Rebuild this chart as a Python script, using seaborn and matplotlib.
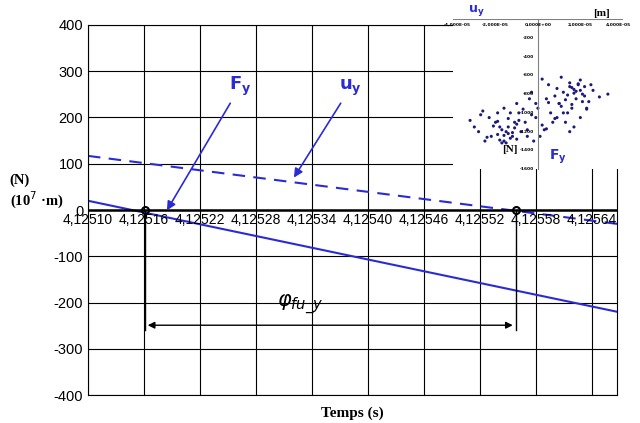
import matplotlib
matplotlib.use("Agg")
import matplotlib.pyplot as plt
import seaborn as sns
import numpy as np
import pandas as pd

t = [4.12510, 4.125667]
Fy = [20, -220]
uy = [117, -30]
xticks = [4.12510, 4.12516, 4.12522, 4.12528, 4.12534, 4.12540, 4.12546, 4.12552, 4.12558, 4.12564]
xlabels = ["4,12510", "4,12516", "4,12522", "4,12528", "4,12534", "4,12540", "4,12546", "4,12552", "4,12558", "4,12564"]
yticks = [-400, -300, -200, -100, 0, 100, 200, 300, 400]
zeros_t = [4.125161, 4.125558]

# inset scatter (approximate, hand-read)
sx = [1.7, 1.9, 2.1, 1.5, 1.8, 2.2, 1.2, 1.0, 2.0, 1.6, 0.8, 0.5, 1.4, 2.4, 1.1, 0.2, -0.3, 0.9, 1.3, 2.6,
      -1.5, -1.8, -1.2, -2.0, -1.0, -1.6, -2.3, -0.8, -1.4, -0.5, -1.9, -2.6, -1.1, -0.2, -2.8, -3.2, -1.7, -0.9, 0.3, -2.2,
      0.0, 0.6, -0.6, 1.0, -1.3, 0.4, -0.1, 1.7, 2.3, 3.3, 2.9, -3.0, -2.5, 0.7, -0.4, 1.5, -1.0, 0.1, 2.0, -1.6,
      1.8, 1.6, 2.0, 1.4, 1.9, 1.7, 2.1, 1.5, 1.3, 2.2, -1.4, -1.7, -1.3, -1.9, -1.5, -1.1, -1.6, -2.1, -1.2, -1.8,
      0.5, -0.7, 1.1, -0.3, 0.8, -1.0, 0.2, -2.4, 2.5, -0.5, 1.2, -1.9, 0.9, -0.9, 0.4, -2.7, 2.3, -0.1, 1.6, -1.4]
sy = [-750, -700, -800, -680, -850, -720, -780, -900, -650, -950, -820, -700, -1000, -880, -620, -640, -780, -1050, -1100, -760,
      -1200, -1150, -1250, -1100, -1280, -1300, -1050, -1200, -1150, -1250, -1000, -980, -1100, -1300, -1200, -1080, -1320, -1000, -1180, -1250,
      -950, -1000, -1100, -900, -1000, -850, -1050, -1150, -950, -800, -830, -1150, -1300, -1100, -850, -1200, -900, -1250, -1050, -950,
      -770, -730, -760, -810, -690, -790, -880, -720, -860, -820, -1220, -1180, -1270, -1230, -1320, -1160, -1240, -1140, -1210, -1290,
      -890, -960, -930, -1020, -1060, -1120, -1130, -1260, -700, -1180, -1000, -1090, -740, -1080, -1170, -1020, -960, -900, -910, -1060]

fig = plt.figure(figsize=(6.4, 4.23), dpi=100)
ax = fig.add_axes([0.1375, 0.066, 0.827, 0.875])
sns.lineplot(x=t, y=Fy, ax=ax, color="#2b2bd6", lw=1.5)
sns.lineplot(x=t, y=uy, ax=ax, color="#2b2bd6", lw=1.5, linestyle=(0, (6, 4)))
ax.set_xlim(4.12510, 4.125667)
ax.set_ylim(-400, 400)
ax.set_xticks(xticks)
ax.set_yticks(yticks)
ax.set_xticklabels([])
ax.set_yticklabels([str(v) for v in yticks], fontsize=10.5, family="Liberation Sans")
ax.tick_params(length=0)
ax.grid(True, color="black", lw=0.8)
ax.axhline(0, color="black", lw=1.8)
for s in ax.spines.values():
    s.set_linewidth(0.8)
for x, lab in zip(xticks, xlabels):
    ax.text(x, -22, lab, ha="center", va="center", fontsize=10, family="Liberation Sans")
for z in zeros_t:
    ax.plot([z, z], [0, -260], color="black", lw=1)
    ax.plot(z, 0, "o", mfc="none", mec="black", ms=5, mew=1.5)
ax.annotate("", xy=(zeros_t[0], -249), xytext=(zeros_t[1], -249),
            arrowprops=dict(arrowstyle="<|-|>", color="black", lw=1))
ax.text(4.125327, -232, r"$\varphi_{fu\_y}$", fontsize=15, ha="center", va="bottom", fontweight="bold")
ax.annotate(r"$\mathbf{F_y}$", xy=(4.125183, -6), xytext=(4.125263, 242), fontsize=13, color="#2b2bd6",
            ha="center", va="bottom", arrowprops=dict(arrowstyle="-|>", color="#2b2bd6", lw=1.2))
ax.annotate(r"$\mathbf{u_y}$", xy=(4.125319, 65), xytext=(4.125381, 242), fontsize=13, color="#2b2bd6",
            ha="center", va="bottom", arrowprops=dict(arrowstyle="-|>", color="#2b2bd6", lw=1.2))
fig.text(0.015, 0.545, "(N)\n(10$^7$ ·m)", fontsize=10.5, family="Liberation Serif", fontweight="bold", va="center")
fig.text(0.55, 0.015, "Temps (s)", fontsize=11, family="Liberation Serif", fontweight="bold", ha="center")

# inset
ia = fig.add_axes([0.708, 0.60, 0.265, 0.355])
ia.patch.set_facecolor("white")
sns.scatterplot(x=np.array(sx) * 1e-5, y=sy, ax=ia, s=5, color="#1a1a7a", edgecolor="none")
ia.set_xlim(-4e-5, 4e-5)
ia.set_ylim(-1600, 0)
for s in ["top", "right", "bottom"]:
    ia.spines[s].set_visible(False)
ia.spines["left"].set_position(("data", 0))
ia.spines["left"].set_color("gray")
ia.axhline(0, color="gray", lw=0.8)
ia.set_xticks([])
ia.set_yticks([])
for xv, lab in zip([-3.8e-5, -2e-5, 0, 2e-5, 3.8e-5], ["-4,000E-05", "-2,000E-05", "0,000E+00", "2,000E-05", "4,000E-05"]):
    ia.text(xv, -40, lab, fontsize=3.2, ha="center", va="top", fontweight="bold")
for yv in range(-200, -1601, -200):
    ia.text(-0.2e-5, yv, str(yv), fontsize=3.2, ha="right", va="center", fontweight="bold")
ia.text(-3.3e-5, 10, r"$\mathbf{u_y}$", fontsize=9, color="#2b2bd6", va="bottom")
ia.text(2.6e-5, 10, "[m]", fontsize=8, family="Liberation Serif", fontweight="bold", va="bottom")
ia.text(-1.7e-5, -1420, "[N]", fontsize=8, family="Liberation Serif", fontweight="bold")
ia.text(0.5e-5, -1500, r"$\mathbf{F_y}$", fontsize=10, color="#2b2bd6")

fig.savefig("out.png", dpi=100)
